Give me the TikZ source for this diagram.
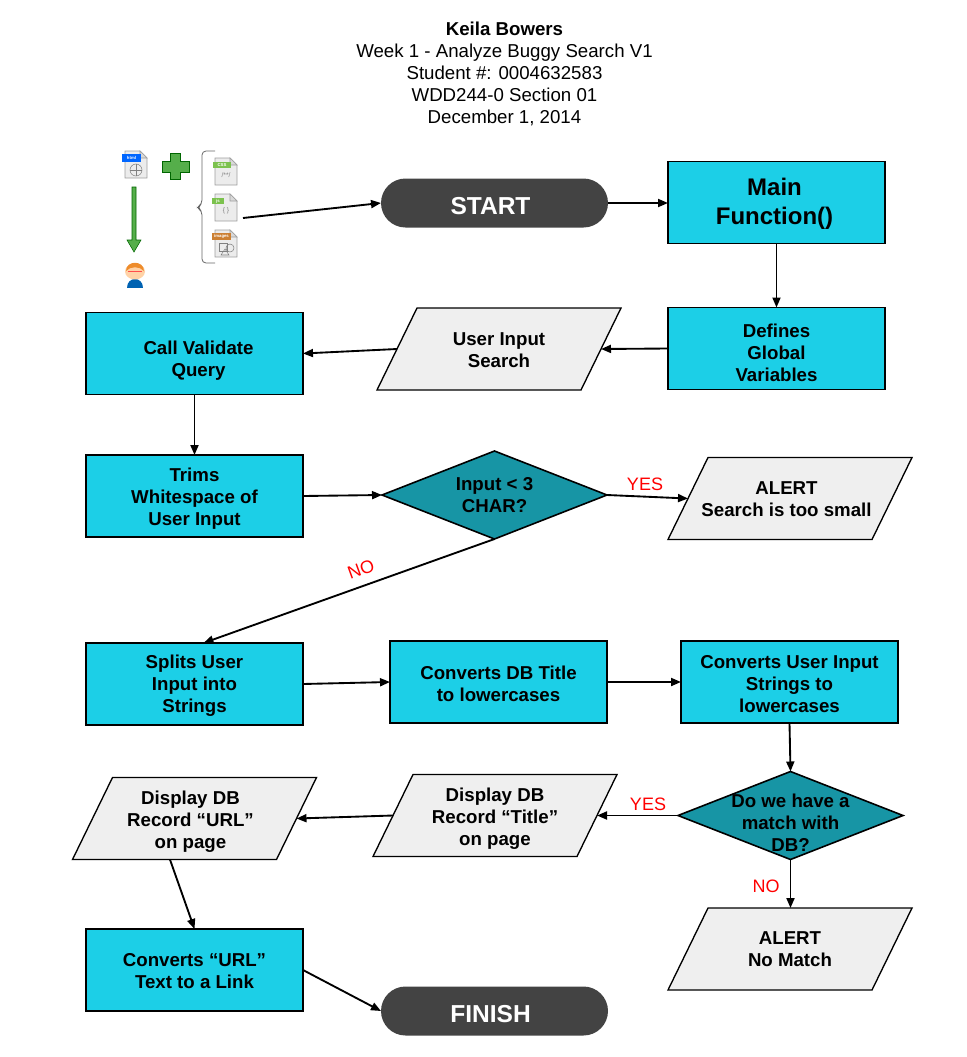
\documentclass[tikz,border=0pt]{standalone}
\usepackage{fontspec}
\setmainfont{Liberation Sans}
\usetikzlibrary{shapes.geometric,shapes.misc,arrows.meta}
\definecolor{boxcyan}{HTML}{1CCFE7}
\definecolor{teal1}{HTML}{1795A5}
\definecolor{greybox}{HTML}{EFEFEF}
\definecolor{term}{HTML}{434343}
\definecolor{igreen}{HTML}{55AE4A}
\definecolor{tagg}{HTML}{7CC24E}
\newcommand{\boldtxt}{\fontsize{14}{16.5}\selectfont\bfseries}
\tikzset{
  x=.75pt,y=-.75pt,
  every node/.style={inner sep=0pt,outer sep=0pt,align=center},
  procbox/.style={draw=black,line width=1.1pt,fill=boxcyan,minimum width=162.75pt,minimum height=61.5pt},
  ioline/.style={draw=black,line width=1pt,fill=greybox,line join=miter},
  iobox/.style={minimum width=153pt,minimum height=61.5pt},
  decide/.style={diamond,draw=black,line width=1.2pt,fill=teal1,minimum width=168.75pt,minimum height=66pt,shape aspect=2.56},
  say/.style n args={3}{label={[font=\boldtxt,xshift=#1*.75pt,yshift=-#2*.75pt]center:#3}},
  saybig/.style n args={3}{label={[font=\fontsize{18}{21.75}\selectfont\bfseries,xshift=#1*.75pt,yshift=-#2*.75pt]center:#3}},
  termbox/.style={rounded rectangle,fill=term,minimum width=170.25pt,minimum height=36.75pt},
  sayterm/.style={label={[text=white,font=\fontsize{18.4}{20}\selectfont\bfseries,xshift=-3pt,yshift=-2.25pt]center:#1}},
  link/.style={draw=black,line width=1.4pt,-{Triangle[length=7.5pt,width=6pt]}},
  flag/.style={text=red,font=\fontsize{13.5}{16}\selectfont},
  tag/.style={text=white,font=\fontsize{3.2}{3.5}\selectfont\bfseries},
}
% a parallelogram: #1 name, #2 cx, #3 cy, #4 text shift x, #5 text shift y, #6 text
\newcommand{\ionode}[6]{%
  \draw[ioline] (#2-82,#3-41) -- (#2+122,#3-41) -- (#2+82,#3+41) -- (#2-122,#3+41) -- cycle;
  \node[iobox,say={#4}{#5}{#6}] (#1) at (#2,#3) {};
}
\newcommand{\filepage}[2]{%
  \draw[gray!75,line width=.6pt,fill=gray!15] (#1,#2) -- ++(15,0) -- ++(7,7) -- ++(0,20) -- ++(-22,0) -- cycle;
  \draw[gray!75,line width=.5pt,fill=gray!30] (#1+15,#2) -- ++(0,7) -- ++(7,0) -- cycle;
}
\begin{document}
\begin{tikzpicture}
\useasboundingbox (0,0) rectangle (967,1057);
% title
\node[font=\fontsize{14}{16.5}\selectfont] (title) at (504.5,74) {\textbf{Keila Bowers}\\
Week 1 - Analyze Buggy Search V1\\ Student \#: 0004632583\\ WDD244-0 Section 01\\ December 1, 2014};
% icons
\filepage{125}{151}
\fill[blue!60!cyan] (122,154) rectangle (141,162);
\node[tag] (ihtml) at (131.5,158) {html};
\draw[gray,line width=.4pt] (136,170) circle (6);
\draw[gray,line width=.3pt] (130,170) -- (142,170) (136,164) -- (136,176);
\draw[black!60!green,line width=.5pt,fill=igreen] (170,153) -- (180,153) -- (180,161) -- (189,161) -- (189,172) -- (180,172) -- (180,179) -- (170,179) -- (170,172) -- (162,172) -- (162,161) -- (170,161) -- cycle;
\draw[black!60!green,line width=.4pt,fill=igreen] (132,187) -- (136,187) -- (136,240) -- (141,240) -- (134,252) -- (127,240) -- (132,240) -- cycle;
% person
\fill[blue!45!cyan!70!black] (127,288) .. controls (127,276) and (143,276) .. (143,288) -- cycle;
\fill[orange!35!white] (135,271.5) ellipse (10 and 8);
\fill[orange!70!brown!90!white] (126,271) .. controls (126,260) and (144,260) .. (144,271) .. controls (140,266) and (130,266) .. (126,271) -- cycle;
\draw[red!70,line width=.6pt] (128,271) -- (142,271);
% brace
\draw[gray!80!black,line width=.6pt,rounded corners=3pt] (215,151) -- (202,151) -- (202,204) -- (197,207.5) -- (202,211) -- (202,263) -- (215,263);
\filepage{215}{158}
\fill[tagg] (213,162) rectangle (231,168);
\node[tag] (icss) at (222,165) {CSS};
\node[text=gray,font=\fontsize{5}{5}\selectfont] (icssb) at (226,175) {/**/};
\filepage{215}{194}
\fill[tagg] (212,198) rectangle (224,204);
\node[tag] (ijs) at (218,201) {js};
\node[text=gray,font=\fontsize{5}{5}\selectfont] (ijsb) at (226,211) {\{ \}};
\filepage{215}{230}
\fill[brown!80!orange] (212,233) rectangle (231,240);
\node[tag] (iimg) at (221.5,236.5) {images};
\draw[gray,line width=.4pt] (219,243) rectangle (227,251);
\draw[gray,line width=.4pt] (230,248) circle (4);
\draw[gray,line width=.4pt] (221,255) -- (225,249) -- (229,255) -- cycle;
\coordinate (iconout) at (243,218);
% nodes
\node[termbox,sayterm=START] (start) at (494.5,203) {};
\node[procbox,saybig={-2}{1}{Main\\Function()}] (main) at (776.5,202.5) {};
\node[procbox,say={0}{4}{Defines\\Global\\Variables}] (defines) at (776.5,348.5) {};
\ionode{input}{499}{349}{0}{1}{User Input\\Search}
\node[procbox,say={4}{7}{Call Validate\\Query}] (call) at (194.5,353.5) {};
\node[procbox,say={0}{3}{Trims\\Whitespace of\\User Input}] (trims) at (194.5,496) {};
\node[decide,say={0}{0}{Input < 3\\CHAR?}] (small) at (494.5,495) {};
\ionode{alert1}{790}{498.5}{-3.5}{1}{ALERT\\Search is too small}
\node[procbox,say={0}{2}{Splits User\\Input into\\Strings}] (splits) at (194.5,684) {};
\node[procbox,say={0}{2}{Converts DB Title\\to lowercases}] (dbt) at (498.5,682) {};
\node[procbox,say={0}{2}{Converts User Input\\Strings to\\lowercases}] (uit) at (789.5,682) {};
\node[decide,say={0}{7}{Do we have a\\match with\\DB?}] (match) at (790.5,815.5) {};
\ionode{title2}{495}{815.5}{0}{3}{Display DB\\Record “Title”\\on page}
\ionode{url}{194.5}{818.5}{-4}{3}{Display DB\\Record “URL”\\on page}
\ionode{alert2}{790}{949}{0}{0}{ALERT\\No Match}
\node[procbox,say={0}{1}{Converts “URL”\\Text to a Link}] (conv) at (194.5,970) {};
\node[termbox,sayterm=FINISH] (finish) at (494.5,1011) {};
% connectors
\draw[link] (iconout) -- (start.west);
\draw[link] (start.east) -- (main.west |- start.east);
\draw[link] (main.south) -- (defines.north);
\draw[link] (defines.west) -- (input.east);
\draw[link] (input.west) -- (call.east);
\draw[link] (call.south) -- (trims.north);
\draw[link] (trims.east) -- (small.west);
\draw[link] (small.east) -- (alert1.west);
\draw[link] (small.south) -- ([xshift=6.75pt]splits.north);
\draw[link] (splits.east) -- (dbt.west);
\draw[link] (dbt.east) -- (uit.west);
\draw[link] (uit.south) -- (match.north);
\draw[link] (match.west) -- (title2.east);
\draw[link] (title2.west) -- (url.east);
\draw[link] ([xshift=-18.4pt]url.south) -- (conv.north);
\draw[link] (conv.east) -- (finish.west);
\draw[link] (match.south) -- (alert2.north -| match.south);
% flags
\node[flag] (yes1) at (645,484) {YES};
\node[flag,rotate=20] (no1) at (361,569) {NO};
\node[flag] (yes2) at (648,804) {YES};
\node[flag] (no2) at (766,886) {NO};
\end{tikzpicture}
\end{document}
